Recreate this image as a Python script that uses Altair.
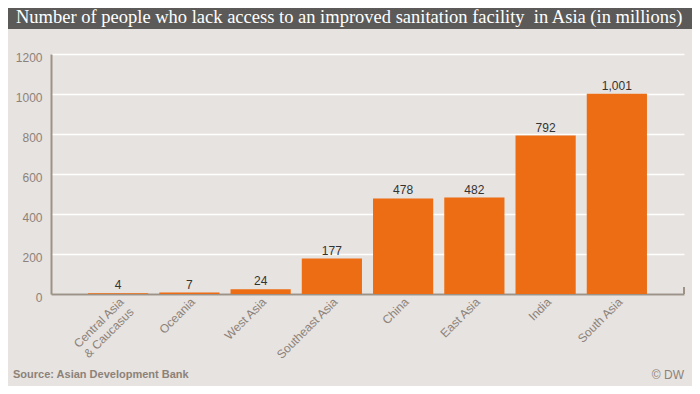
import altair as alt
import pandas as pd

categories = ["Central Asia & Caucasus", "Oceania", "West Asia", "Southeast Asia",
              "China", "East Asia", "India", "South Asia"]
values = [4, 7, 24, 177, 478, 482, 792, 1001]
value_labels = ["4", "7", "24", "177", "478", "482", "792", "1,001"]
y_ticks = [0, 200, 400, 600, 800, 1000, 1200]

title_text = "Number of people who lack access to an improved sanitation facility\u00a0 in Asia (in millions)"
source_text = "Source: Asian Development Bank"
credit_text = "© DW"

df = pd.DataFrame({"cat": categories, "val": values, "lab": value_labels})

BG = "#e7e3e0"
GREY = "#8c8279"
ORANGE = "#ec6d13"

x_enc = alt.X("cat:N", sort=categories, title=None,
              scale=alt.Scale(paddingInner=0.155, paddingOuter=0.52),
              axis=alt.Axis(labelAngle=-45, labelAlign="right", labelBaseline="top",
                            labelColor=GREY, labelFont="Liberation Sans", labelFontSize=12,
                            labelPadding=2, ticks=False, domainColor="#9c9287", domainWidth=2,
                            labelOverlap=False,
                            labelExpr="datum.label == 'Central Asia & Caucasus' ? ['Central Asia', '& Caucasus'] : datum.label"))
y_enc = alt.Y("val:Q", title=None,
              scale=alt.Scale(domain=[0, 1200], nice=False),
              axis=alt.Axis(values=y_ticks, format="d", labelOverlap=False,
                            labelColor=GREY, labelFont="Liberation Sans",
                            labelFontSize=12, labelPadding=9, ticks=False, labelOffset=3,
                            domainColor="#9c9287", domainWidth=2, gridColor="#ffffff",
                            gridWidth=1.5))

bars = alt.Chart(df).mark_bar(color=ORANGE).encode(x=x_enc, y=y_enc)
labels = alt.Chart(df).mark_text(dy=-8, font="Liberation Sans", fontSize=12, color="#333333").encode(
    x=x_enc, y=y_enc, text="lab:N")

end_tick = alt.Chart(df).mark_rule(color="#9c9287", strokeWidth=1.5).encode(
    x=alt.value(633), y=alt.value(233), y2=alt.value(240))

header = alt.Chart(df).mark_rect(color="#5b5a58").encode(
    x=alt.value(-43), x2=alt.value(641), y=alt.value(-46), y2=alt.value(-25))
title = alt.Chart(pd.DataFrame({"t": [title_text]})).mark_text(
    align="left", baseline="alphabetic", font="Liberation Serif", fontSize=18.5, color="#ffffff").encode(
    x=alt.value(-35), y=alt.value(-31), text="t:N")
source = alt.Chart(pd.DataFrame({"t": [source_text]})).mark_text(
    align="left", baseline="middle", font="Liberation Sans", fontSize=11, fontWeight="bold", color=GREY).encode(
    x=alt.value(-38), y=alt.value(321), text="t:N")
credit = alt.Chart(pd.DataFrame({"t": [credit_text]})).mark_text(
    align="right", baseline="middle", font="Liberation Sans", fontSize=12, color=GREY).encode(
    x=alt.value(633), y=alt.value(321), text="t:N")

chart = alt.layer(header, bars, labels, end_tick, title, source, credit).properties(
    width=633, height=240,
    autosize=alt.AutoSizeParams(type="none"),
    padding={"left": 43, "top": 46, "right": 8, "bottom": 92},
    background=BG,
).configure_view(stroke=None)

chart.save("out.html", embed_options={"renderer": "svg", "actions": False})
